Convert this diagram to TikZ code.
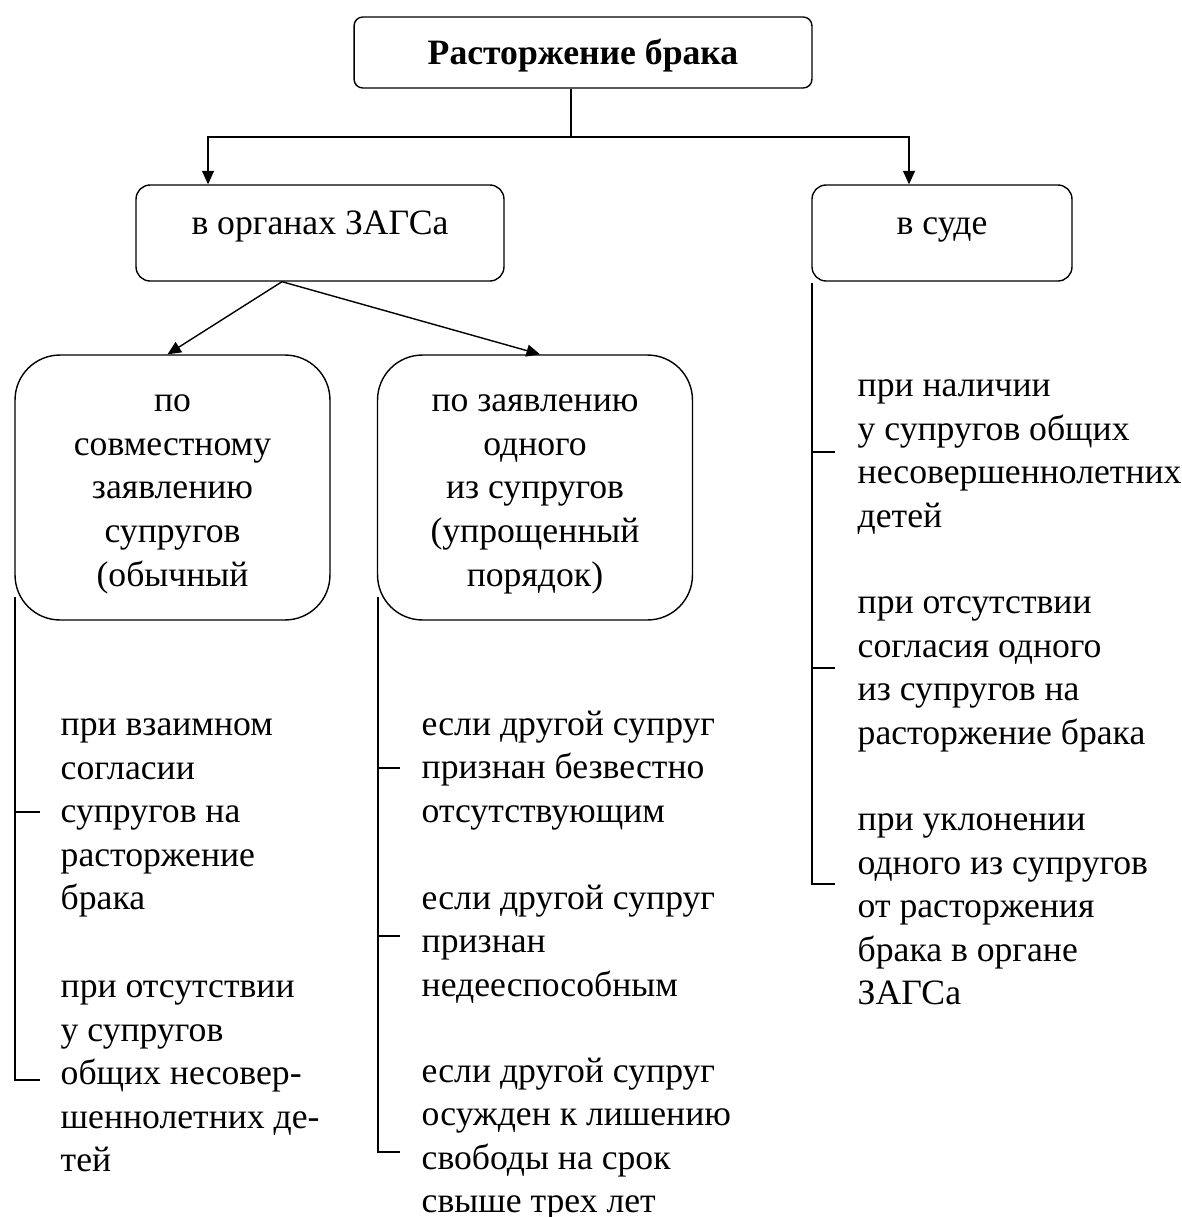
\documentclass[tikz,border=0pt]{standalone}
\usepackage{fontspec}
\setmainfont{Liberation Serif}
\usetikzlibrary{arrows.meta,positioning}

\begin{document}
\begin{tikzpicture}[x=0.02cm, y=-0.02cm, line width=0.8pt,
    every node/.style={font=\fontsize{20.3}{24.8}\selectfont},
    head/.style={draw, rounded corners=5pt, minimum width=9.16cm, minimum height=1.42cm, text height=0.55cm, text depth=0.05cm, font=\fontsize{20.3}{24.8}\selectfont\bfseries},
    way/.style={draw, rounded corners=8pt, minimum height=1.92cm, text height=0.42cm, text depth=0.38cm},
    kind/.style={draw, rounded corners=0.9cm, minimum width=6.3cm, minimum height=5.3cm, align=center},
    item/.style={anchor=north west, align=left, inner sep=0pt, execute at begin node=\strut},
    arr/.style={-{Triangle[length=0.27cm,width=0.24cm]}}
]
    \fill[white] (0,0) rectangle (1182,1217);
    \useasboundingbox (0,0) rectangle (1182,1217);

    \node[head] (divorce) at (583,52.5) {Расторжение брака};
    \node[way, minimum width=7.36cm] (registry) at (320,233) {в органах ЗАГСа};
    \node[way, minimum width=5.2cm] (court) at (942,233) {в суде};
    \node[kind] (mutual) at (172.5,487.5) {\strut по\\совместному\\заявлению\\супругов\\(обычный};
    \node[kind] (unilateral) at (535,487.5) {\strut по заявлению\\одного\\из супругов\\(упрощенный\\порядок)};

    \node[item] (m1) at (60,718) {при взаимном\\согласии\\супругов на\\расторжение\\брака};
    \node[item] (m2) at (60,980) {при отсутствии\\у супругов\\общих несовер-\\шеннолетних де-\\тей};

    \node[item] (u1) at (421,710) {если другой супруг\\признан безвестно\\отсутствующим};
    \node[item] (u2) at (421,884) {если другой супруг\\признан\\недееспособным};
    \node[item] (u3) at (421,1057) {если другой супруг\\осужден к лишению\\свободы на срок\\свыше трех лет};

    \node[item] (c1) at (857,379) {при наличии\\у супругов общих\\несовершеннолетних\\детей};
    \node[item] (c2) at (857,596) {при отсутствии\\согласия одного\\из супругов на\\расторжение брака};
    \node[item] (c3) at (857,813) {при уклонении\\одного из супругов\\от расторжения\\брака в органе\\ЗАГСа};

    % branching under the title
    \coordinate (split) at (571,137);
    \draw (divorce.south -| split) -- (split);
    \draw[arr] (split) -| ([xshift=-2.24cm]registry.north);
    \draw[arr] (split) -| ([xshift=-0.66cm]court.north);

    \draw[arr] ([xshift=-0.76cm]registry.south) -- ([xshift=-0.1cm]mutual.north);
    \draw[arr] ([xshift=-0.76cm]registry.south) -- ([xshift=0.1cm]unilateral.north);

    % brackets
    \coordinate (mTop) at (15,597);
    \coordinate (m1t) at (15,812);
    \coordinate (m2t) at (15,1080);
    \draw (mTop) -- (m2t) -- ++(25,0);
    \draw (m1t) -- ++(25,0);

    \coordinate (uTop) at (378,597);
    \coordinate (u1t) at (378,768);
    \coordinate (u2t) at (378,936);
    \coordinate (u3t) at (378,1152);
    \draw (uTop) -- (u3t) -- ++(22,0);
    \draw (u1t) -- ++(22,0);
    \draw (u2t) -- ++(22,0);

    \coordinate (cTop) at (812,283);
    \coordinate (c1t) at (812,452);
    \coordinate (c2t) at (812,668);
    \coordinate (c3t) at (812,884);
    \draw (cTop) -- (c3t) -- ++(23,0);
    \draw (c1t) -- ++(23,0);
    \draw (c2t) -- ++(23,0);
\end{tikzpicture}
\end{document}
